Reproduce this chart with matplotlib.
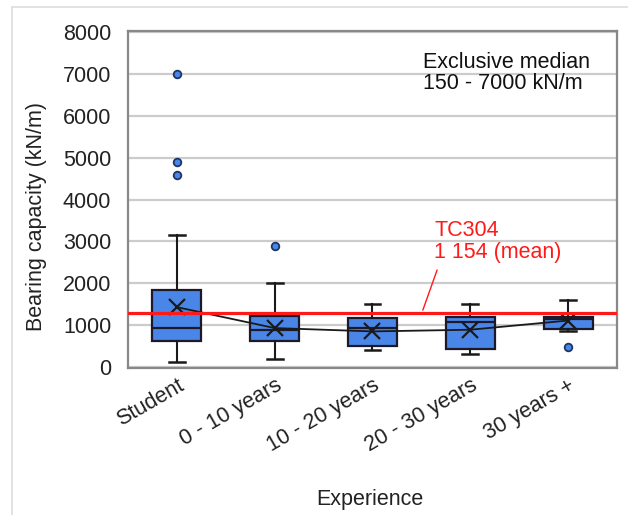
import matplotlib
matplotlib.use("Agg")
import matplotlib.pyplot as plt
from matplotlib.lines import Line2D

plt.rcParams['font.family'] = ['Liberation Sans', 'DejaVu Sans']

categories = ["Student", "0 - 10 years", "10 - 20 years", "20 - 30 years", "30 years +"]
whis_lo = [110, 180, 410, 310, 850]
q1 = [625, 625, 500, 430, 905]
medians = [920, 890, 935, 1080, 1150]
q3 = [1830, 1210, 1170, 1200, 1200]
whis_hi = [3150, 2000, 1500, 1500, 1600]
means = [1430, 930, 850, 890, 1110]
fliers = [[7000, 4890, 4590], [2900], [], [], [470]]
ref_value = 1295
ref_label = "TC304\n1 154 (mean)"
note = "Exclusive median\n150 - 7000 kN/m"
yticks = [0, 1000, 2000, 3000, 4000, 5000, 6000, 7000, 8000]

fig = plt.figure(figsize=(6.28, 5.15), dpi=100)
ax = fig.add_axes([0.2038, 0.2854, 0.7787, 0.6544])

stats = []
for i in range(len(categories)):
    stats.append(dict(whislo=whis_lo[i], q1=q1[i], med=medians[i], q3=q3[i],
                      whishi=whis_hi[i], mean=means[i], fliers=fliers[i]))
pos = list(range(1, len(categories) + 1))
ax.bxp(stats, positions=pos, widths=0.5, capwidths=0.16, patch_artist=True, showmeans=False,
       boxprops=dict(facecolor='#4a86e8', edgecolor='#1a1a2a', linewidth=1.6),
       medianprops=dict(color='#1a1a2a', linewidth=1.6),
       whiskerprops=dict(color='#1a1a1a', linewidth=1.5),
       capprops=dict(color='#1a1a1a', linewidth=1.8),
       flierprops=dict(marker='o', markersize=5.5, markerfacecolor='#4a86e8',
                       markeredgecolor='#1f3566', markeredgewidth=1.3),
       zorder=3)

ax.plot(pos, means, color='#1a1a1a', linewidth=1.3, marker='x', markersize=11,
        markeredgewidth=1.6, zorder=4)

ax.axhline(ref_value, color='#ff1a1a', linewidth=2.3, zorder=5)
ax.annotate('', xy=(3.505, ref_value), xytext=(3.67, 2380),
            arrowprops=dict(arrowstyle='-', color='#ff1a1a', linewidth=1.0), zorder=5)
ax.text(3.63, 3000, ref_label, color='#ff1a1a', fontsize=15.5, va='center', ha='left',
        linespacing=1.05)
ax.text(3.516, 7020, note, color='#111111', fontsize=15.5, va='center', ha='left',
        linespacing=1.0)

ax.set_xlim(0.5, 5.5)
ax.set_ylim(-25, 8030)
ax.set_yticks(yticks)
ax.set_yticklabels([str(v) for v in yticks], fontsize=15.5, color='#222222')
ax.set_xticks(pos)
ax.set_xticklabels(categories, rotation=30, ha='right', rotation_mode='anchor',
                   fontsize=15.5, color='#222222')
ax.tick_params(axis='y', length=0, pad=12)
ax.tick_params(axis='x', length=0, pad=5)
ax.yaxis.grid(True, color='#cccccc', linewidth=1.6, zorder=0)
ax.set_axisbelow(True)
for s in ax.spines.values():
    s.set_color('#888888')
    s.set_linewidth(1.6)

ax.set_ylabel("Bearing capacity (kN/m)", fontsize=15.5, color='#222222')
ax.yaxis.set_label_coords(-0.165, 0.45)
ax.set_xlabel("Experience", fontsize=15.5, color='#222222')
ax.xaxis.set_label_coords(0.495, -0.36)

# outer chart border
fig.add_artist(Line2D([12/628, 1.0], [1 - 7/515, 1 - 7/515], color='#dddddd', linewidth=1.2,
                      transform=fig.transFigure))
fig.add_artist(Line2D([12/628, 12/628], [0, 1 - 7/515], color='#dddddd', linewidth=1.2,
                      transform=fig.transFigure))

fig.savefig("out.png", dpi=100)
